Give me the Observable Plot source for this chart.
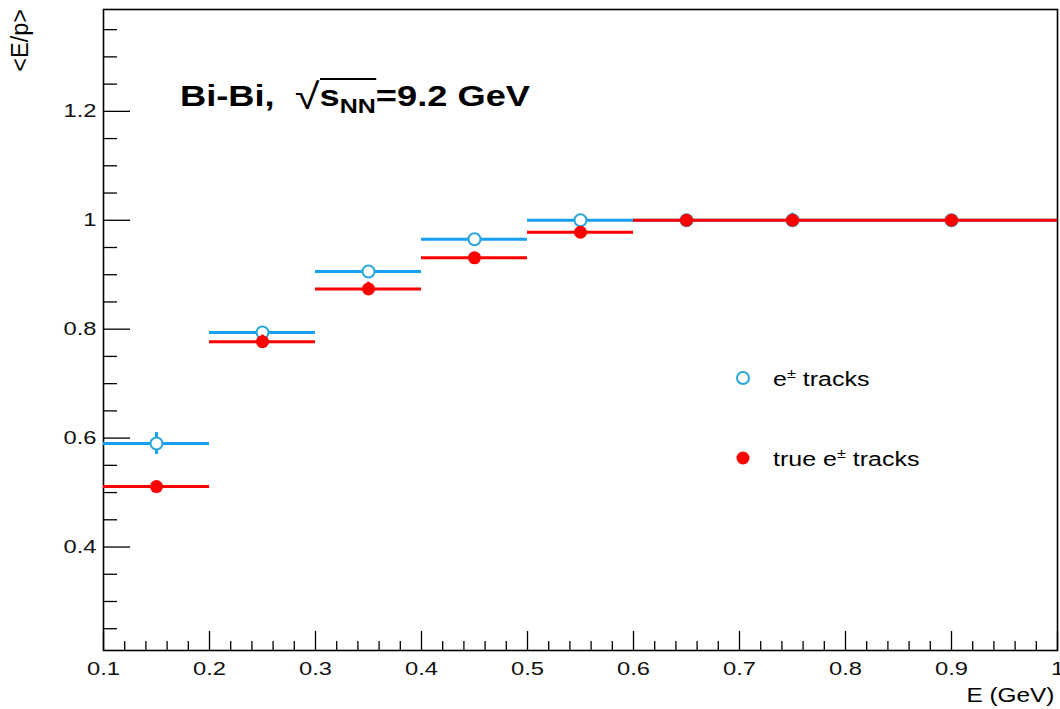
<!DOCTYPE html>
<html>
<head>
<meta charset="utf-8">
<script src="https://cdn.jsdelivr.net/npm/d3@7"></script>
<script src="https://cdn.jsdelivr.net/npm/@observablehq/plot@0.6"></script>
<style>
  html, body { margin: 0; padding: 0; background: #fff; }
  #wrap { position: relative; width: 1060px; height: 709px; font-family: "Liberation Sans", Arial, sans-serif; }
  .ov { position: absolute; white-space: nowrap; color: #000; line-height: 1; }
</style>
</head>
<body>
<div id="wrap">
  <div id="chart"></div>
  <div class="ov" id="ylab" style="left:9px; top:9px; font-size:23.5px; transform-origin:0 0; transform: rotate(-90deg) translateX(-100%);">&lt;E/p&gt;</div>
  <div class="ov" id="xlab" style="right:6px; top:686px; font-size:19.5px; transform-origin:100% 0; transform: scaleX(1.25);">E (GeV)</div>
  <div class="ov" id="title" style="left:180px; top:76px; font-size:29px; font-weight:bold; transform-origin:0 0; transform: scaleX(1.25);">Bi-Bi,&nbsp; <span style="font-weight:normal; font-size:36px; position:relative; top:3px;">&#8730;</span><span style="border-top:2px solid #000; padding-top:0px;">s<sub style="font-size:20px; vertical-align:-7px;">NN</sub></span>=9.2 GeV</div>
  <div class="ov" id="leg" style="left:734px; top:367px; font-size:20px;">
    <div style="position:relative; height:80px;">
      <svg width="18" height="18" style="position:absolute; left:0; top:2px;"><circle cx="9" cy="9" r="6" fill="#fff" stroke="#29a6dc" stroke-width="2"/></svg>
      <span style="position:absolute; left:39px; top:0; transform-origin:0 0; transform: scaleX(1.25);">e<sup style="font-size:13px; vertical-align:8px;">&#177;</sup> tracks</span>
    </div>
    <div style="position:relative; height:30px;">
      <svg width="18" height="18" style="position:absolute; left:0; top:2px;"><circle cx="9" cy="9" r="6.5" fill="#ff0000"/></svg>
      <span style="position:absolute; left:39px; top:0; transform-origin:0 0; transform: scaleX(1.25);">true e<sup style="font-size:13px; vertical-align:8px;">&#177;</sup> tracks</span>
    </div>
  </div>
</div>
<script>
// Bins (GeV)
const binLo = [0.1, 0.2, 0.3, 0.4, 0.5, 0.6, 0.7, 0.8];
const binHi = [0.2, 0.3, 0.4, 0.5, 0.6, 0.7, 0.8, 1.0];
const binCenter = [0.15, 0.25, 0.35, 0.45, 0.55, 0.65, 0.75, 0.9];
// e± tracks
const allMean = [0.590, 0.794, 0.906, 0.965, 1.000, 1.000, 1.000, 1.000];
const allErr  = [0.020, 0.006, 0.005, 0.005, 0.004, 0.006, 0.013, 0.005];
// true e± tracks
const trueMean = [0.511, 0.777, 0.874, 0.931, 0.978, 1.000, 1.000, 1.000];
const trueErr  = [0.006, 0.012, 0.012, 0.006, 0.005, 0.004, 0.004, 0.004];

const xMajor = [0.1, 0.2, 0.3, 0.4, 0.5, 0.6, 0.7, 0.8, 0.9, 1.0];
const yMajor = [0.4, 0.6, 0.8, 1.0, 1.2];
const xMinor = d3.range(0.12, 1.0, 0.02).map(v => +v.toFixed(2)).filter(v => !xMajor.some(m => Math.abs(m - v) < 1e-6));
const yMinor = d3.range(0.25, 1.39, 0.05).map(v => +v.toFixed(2)).filter(v => !yMajor.some(m => Math.abs(m - v) < 1e-6));

const rows = (mean, err) => binCenter.map((c, i) => ({c, lo: binLo[i], hi: binHi[i], m: mean[i], e: err[i]}));
const allRows = rows(allMean, allErr);
const trueRows = rows(trueMean, trueErr);

const blueLine = "#15a0f4";
const blueMarker = "#29a6dc";
const red = "#ff0000";

const chart = Plot.plot({
  width: 1060,
  height: 709,
  marginLeft: 103,
  marginRight: 3,
  marginTop: 9,
  marginBottom: 59,
  style: {fontFamily: "Liberation Sans, Arial, sans-serif", fontSize: "19px", background: "#fff", overflow: "visible"},
  x: {domain: [0.1, 1.0]},
  y: {domain: [0.21, 1.387]},
  marks: [
    Plot.axisX(xMajor, {tickSize: -19, tickPadding: 30, label: null, tickFormat: d3.format("~g"), strokeWidth: 1.3, fill: "#111"}),
    Plot.axisX(xMinor, {tickSize: -9, text: null, label: null, strokeWidth: 1.3}),
    Plot.axisY(yMajor, {tickSize: -27, tickPadding: 34, label: null, tickFormat: d3.format("~g"), strokeWidth: 1.3, fill: "#111"}),
    Plot.axisY(yMinor, {tickSize: -14, text: null, label: null, strokeWidth: 1.3}),
    Plot.frame({stroke: "#000", strokeWidth: 1.6}),
    // e± tracks
    Plot.ruleY(allRows, {y: "m", x1: "lo", x2: "hi", stroke: blueLine, strokeWidth: 3}),
    Plot.ruleX(allRows, {x: "c", y1: d => d.m - d.e, y2: d => d.m + d.e, stroke: blueLine, strokeWidth: 3}),
    Plot.dot(allRows, {x: "c", y: "m", r: 6, fill: "#fff", stroke: blueMarker, strokeWidth: 2}),
    // true e± tracks
    Plot.ruleY(trueRows, {y: "m", x1: "lo", x2: "hi", stroke: red, strokeWidth: 3}),
    Plot.ruleX(trueRows, {x: "c", y1: d => d.m - d.e, y2: d => d.m + d.e, stroke: red, strokeWidth: 3}),
    Plot.dot(trueRows, {x: "c", y: "m", r: 6.5, fill: red})
  ]
});
document.getElementById("chart").appendChild(chart);
// widen tick labels horizontally like the reference rendering
d3.select(chart).selectAll('g[aria-label$="tick label"] text').each(function() {
  const L = this.getComputedTextLength();
  this.setAttribute("textLength", (L * 1.25).toFixed(1));
  this.setAttribute("lengthAdjust", "spacingAndGlyphs");
});
</script>
</body>
</html>
